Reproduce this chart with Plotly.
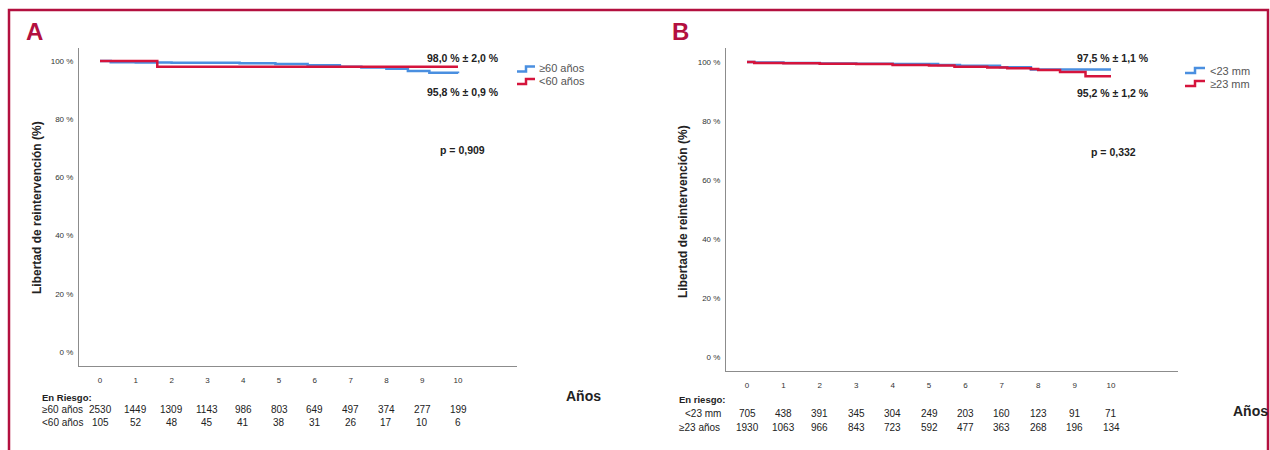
import plotly.graph_objects as go

W, H = 1270, 450

# ---------------- data ----------------
years = list(range(0, 11))

# Panel A: Kaplan-Meier (step) curves, survival %
a_ge60_t = [0, 0.3, 1.0, 2.0, 3.9, 4.9, 5.8, 6.7, 7.3, 8.0, 8.6, 9.2, 10]
a_ge60_s = [100, 99.6, 99.5, 99.4, 99.2, 99.0, 98.5, 98.0, 97.8, 97.3, 96.6, 96.0, 95.8]
a_lt60_t = [0, 1.6, 10]
a_lt60_s = [100, 98.0, 98.0]

a_risk_ge60 = [2530, 1449, 1309, 1143, 986, 803, 649, 497, 374, 277, 199]
a_risk_lt60 = [105, 52, 48, 45, 41, 38, 31, 26, 17, 10, 6]

# Panel B
b_lt23_t = [0, 0.2, 1, 2, 3, 4, 5.25, 5.85, 6.95, 7.8, 10]
b_lt23_s = [100, 99.8, 99.7, 99.5, 99.4, 99.3, 99.0, 98.7, 98.2, 97.5, 97.5]
b_ge23_t = [0, 0.2, 1, 2, 3, 4, 5, 5.7, 6.6, 7.15, 7.8, 8.0, 8.6, 9.3, 10]
b_ge23_s = [100, 99.7, 99.6, 99.4, 99.3, 99.0, 98.8, 98.4, 98.1, 97.9, 97.6, 97.3, 96.6, 95.2, 95.2]

b_risk_lt23 = [705, 438, 391, 345, 304, 249, 203, 160, 123, 91, 71]
b_risk_ge23 = [1930, 1063, 966, 843, 723, 592, 477, 363, 268, 196, 134]

y_ticks = [0, 20, 40, 60, 80, 100]
y_tick_labels = ["0 %", "20 %", "40 %", "60 %", "80 %", "100 %"]

# ---------------- style ----------------
BLUE = "#4a8fe0"
RED = "#d5143c"
FRAME = "#b3103f"
AXIS = "#8c8c8c"
TXT = "#222222"
FONT = "Liberation Sans, Arial, sans-serif"


def px(x):
    return x / W


def py(y):
    return 1 - y / H


fig = go.Figure()

fig.add_trace(go.Scatter(x=a_ge60_t, y=a_ge60_s, mode="lines", line=dict(color=BLUE, width=2.5, shape="hv"),
                         xaxis="x", yaxis="y", showlegend=False, name="≥60 años"))
fig.add_trace(go.Scatter(x=a_lt60_t, y=a_lt60_s, mode="lines", line=dict(color=RED, width=2.5, shape="hv"),
                         xaxis="x", yaxis="y", showlegend=False, name="<60 años"))
fig.add_trace(go.Scatter(x=b_lt23_t, y=b_lt23_s, mode="lines", line=dict(color=BLUE, width=2.5, shape="hv"),
                         xaxis="x2", yaxis="y2", showlegend=False, name="<23 mm"))
fig.add_trace(go.Scatter(x=b_ge23_t, y=b_ge23_s, mode="lines", line=dict(color=RED, width=2.5, shape="hv"),
                         xaxis="x2", yaxis="y2", showlegend=False, name="≥23 mm"))

axis_common = dict(showgrid=False, zeroline=False, showline=True, linecolor=AXIS, linewidth=1,
                   ticks="", tickfont=dict(family=FONT, size=8, color="#333"), fixedrange=True)

# Panel A axes
x0A, x1A, t0A, t10A = 79, 517, 100, 458
yTopA, yBotA, y100A, y0A = 48, 366, 61, 352
sA = (t10A - t0A) / 10
vA = (y0A - y100A) / 100
fig.update_layout(
    xaxis=dict(domain=[px(x0A), px(x1A)], range=[(x0A - t0A) / sA, (x1A - t0A) / sA],
               tickvals=years, anchor="y", ticklabelstandoff=6, **axis_common),
    yaxis=dict(domain=[py(yBotA), py(yTopA)], range=[-(yBotA - y0A) / vA, 100 + (y100A - yTopA) / vA],
               tickvals=y_ticks, ticktext=y_tick_labels, anchor="x", ticklabelstandoff=3, **axis_common),
)

# Panel B axes
x0B, x1B, t0B, t10B = 726, 1178, 747, 1111
yTopB, yBotB, y100B, y0B = 48, 371, 62, 357
sB = (t10B - t0B) / 10
vB = (y0B - y100B) / 100
fig.update_layout(
    xaxis2=dict(domain=[px(x0B), px(x1B)], range=[(x0B - t0B) / sB, (x1B - t0B) / sB],
                tickvals=years, anchor="y2", ticklabelstandoff=6, **axis_common),
    yaxis2=dict(domain=[py(yBotB), py(yTopB)], range=[-(yBotB - y0B) / vB, 100 + (y100B - yTopB) / vB],
                tickvals=y_ticks, ticktext=y_tick_labels, anchor="x2", ticklabelstandoff=3, **axis_common),
)

ann = []


def text(x, y, s, size=11, bold=False, color=TXT, xanchor="center", angle=0, xref="paper"):
    ann.append(dict(x=x, y=y, xref=xref, yref="paper", text=f"<b>{s}</b>" if bold else s,
                    showarrow=False, xanchor=xanchor, yanchor="middle", textangle=angle,
                    font=dict(family=FONT, size=size, color=color)))


# Panel letters
text(px(34), py(31), "A", size=24, bold=True, color=FRAME)
text(px(680), py(31), "B", size=24, bold=True, color=FRAME)

# Y titles
text(px(37), py(208), "Libertad de reintervención (%)", size=12, bold=True, angle=-90)
text(px(683), py(212), "Libertad de reintervención (%)", size=12, bold=True, angle=-90)

# Panel A notes
text(px(463), py(58), "98,0 % ± 2,0 %", size=10.5, bold=True)
text(px(463), py(92), "95,8 % ± 0,9 %", size=10.5, bold=True)
text(px(463), py(150), "p = 0,909", size=10.5, bold=True)
# Panel B notes
text(px(1113), py(58), "97,5 % ± 1,1 %", size=10.5, bold=True)
text(px(1113), py(93), "95,2 % ± 1,2 %", size=10.5, bold=True)
text(px(1113), py(152), "p = 0,332", size=10.5, bold=True)

# Legends (text)
text(px(537), py(68), "≥60 años", size=11, color="#555", xanchor="left")
text(px(537), py(80.5), "<60 años", size=11, color="#555", xanchor="left")
text(px(1208), py(70.5), "<23 mm", size=11, color="#555", xanchor="left")
text(px(1208), py(83.5), "≥23 mm", size=11, color="#555", xanchor="left")

# Años
text(px(583), py(396), "Años", size=14, bold=True)
text(px(1250), py(411), "Años", size=14, bold=True)

# Risk tables
text(px(40), py(397), "En Riesgo:", size=9.5, bold=True, xanchor="left")
text(px(40), py(409.5), "≥60 años", size=10, xanchor="left")
text(px(40), py(422), "<60 años", size=10, xanchor="left")
for yr, n1, n2 in zip(years, a_risk_ge60, a_risk_lt60):
    text(yr, py(409.5), str(n1), size=10, xref="x")
    text(yr, py(422), str(n2), size=10, xref="x")

text(px(677), py(399), "En riesgo:", size=9.5, bold=True, xanchor="left")
text(px(683), py(413), "<23 mm", size=10, xanchor="left")
text(px(677), py(427), "≥23 años", size=10, xanchor="left")
for yr, n1, n2 in zip(years, b_risk_lt23, b_risk_ge23):
    text(yr, py(413), str(n1), size=10, xref="x2")
    text(yr, py(427), str(n2), size=10, xref="x2")

shapes = []
# Outer frame
shapes.append(dict(type="rect", xref="paper", yref="paper", x0=px(9), x1=px(1268), y0=py(470), y1=py(10),
                   line=dict(color=FRAME, width=2.5), layer="below"))


def step_icon(x0, x1, ylow, yhigh, color):
    xm = (x0 + x1) / 2
    path = f"M {px(x0)},{py(ylow)} L {px(xm)},{py(ylow)} L {px(xm)},{py(yhigh)} L {px(x1)},{py(yhigh)}"
    shapes.append(dict(type="path", xref="paper", yref="paper", path=path, line=dict(color=color, width=2.5)))


step_icon(517, 535, 71.5, 66.5, BLUE)
step_icon(517, 535, 84, 79, RED)
step_icon(1185, 1205, 73, 68, BLUE)
step_icon(1185, 1205, 86, 81, RED)

fig.update_layout(width=W, height=H, margin=dict(l=0, r=0, t=0, b=0), paper_bgcolor="white",
                  plot_bgcolor="white", annotations=ann, shapes=shapes, showlegend=False)

fig.write_html("out.html", config={"displayModeBar": False},
               post_script="document.body.style.margin='0';document.body.style.overflow='hidden';")
